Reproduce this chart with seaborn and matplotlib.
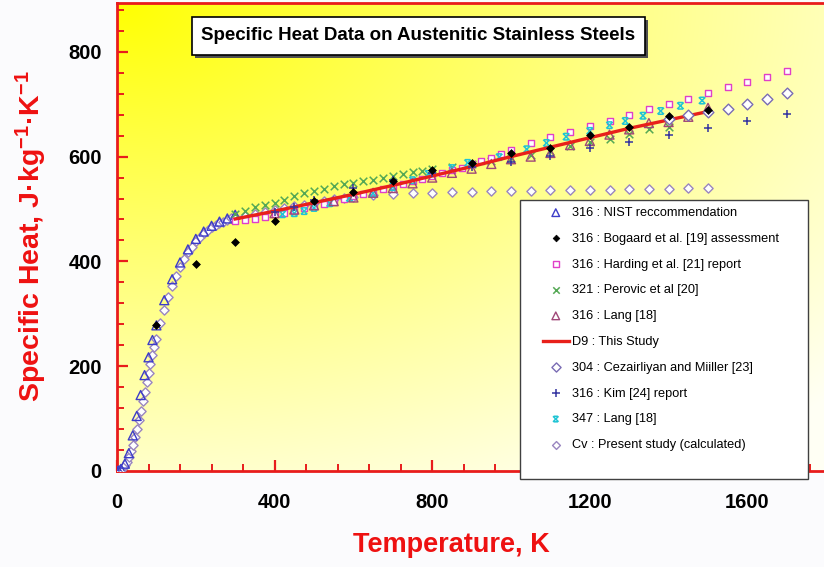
import numpy as np
import pandas as pd
import matplotlib
matplotlib.use("Agg")
import matplotlib.pyplot as plt
import seaborn as sns
from matplotlib.patches import Rectangle
from matplotlib.path import Path
from matplotlib.ticker import MultipleLocator

# ---------------- data ----------------
nist_T = [0, 4, 10, 20, 30, 40, 50, 60, 70, 80, 90, 100, 120, 140, 160, 180, 200, 220, 240, 260, 280, 300]
nist_cp = [0, 1, 4, 14, 34, 68, 105, 145, 183, 217, 250, 278, 326, 366, 398, 423, 443, 457, 468, 476, 482, 489]

bog_T = [100, 200, 300, 400, 500, 600, 700, 800, 900, 1000, 1100, 1200, 1300, 1400, 1500]
bog_cp = [279, 395, 437, 477, 515, 533, 553, 575, 588, 607, 616, 641, 656, 677, 689]

har_T = [300, 325, 350, 375, 400, 425, 450, 475, 500, 525, 550, 575, 600, 625, 650, 675, 700, 725, 750,
         775, 800, 825, 850, 875, 900, 925, 950, 975, 1000, 1050, 1100, 1150, 1200, 1250, 1300, 1350,
         1400, 1450, 1500, 1550, 1600, 1650, 1700]
har_cp = [478, 479, 481, 485, 490, 493, 497, 501, 505, 509, 514, 519, 524, 528, 533, 538, 543, 548, 553,
          558, 563, 568, 574, 579, 585, 591, 598, 605, 612, 626, 637, 647, 658, 668, 680, 690,
          701, 710, 721, 732, 742, 752, 764]

per_T = [300, 325, 350, 375, 400, 425, 450, 475, 500, 525, 550, 575, 600, 625, 650, 675, 700, 725, 750,
         775, 800, 850, 900, 950, 1000, 1050, 1100, 1150, 1200, 1250, 1300, 1350, 1400]
per_cp = [490, 497, 503, 508, 512, 518, 524, 530, 534, 539, 543, 547, 550, 553, 556, 560, 563, 567, 570,
          573, 576, 581, 586, 592, 598, 604, 611, 620, 628, 634, 643, 652, 657]

lang316_T = [400, 450, 500, 550, 600, 650, 700, 750, 800, 850, 900, 950, 1000, 1050, 1100, 1150,
             1200, 1250, 1300, 1350, 1400, 1450, 1500]
lang316_cp = [492, 499, 507, 515, 522, 531, 540, 549, 560, 569, 577, 586, 595, 600, 607, 622,
              630, 642, 652, 664, 666, 676, 693]

d9_T = [300, 400, 500, 600, 700, 800, 900, 1000, 1100, 1200, 1300, 1400, 1500]
d9_cp = [481, 496, 512, 528, 545, 563, 581, 600, 618, 636, 654, 670, 686]

cez_T = [1400, 1450, 1500, 1550, 1600, 1650, 1700]
cez_cp = [672, 680, 685, 691, 700, 710, 721]

kim_T = [400, 450, 500, 600, 700, 800, 900, 1000, 1100, 1200, 1300, 1400, 1500, 1600, 1700]
kim_cp = [494, 504, 517, 540, 555, 569, 580, 590, 601, 616, 628, 641, 654, 668, 681]

lang347_T = [420, 450, 475, 500, 540, 590, 650, 700, 750, 790, 850, 890, 970, 1040, 1090, 1140,
             1200, 1250, 1290, 1335, 1380, 1430, 1485]
lang347_cp = [490, 492, 496, 502, 511, 521, 530, 542, 555, 567, 578, 588, 599, 614, 626, 638,
              649, 660, 668, 678, 687, 697, 707]

cv_T = [0, 5, 10, 15, 20, 25, 30, 35, 40, 45, 50, 55, 60, 65, 70, 75, 80, 85, 90, 95, 100,
        110, 120, 130, 140, 150, 160, 170, 180, 190, 200, 210, 220, 230, 240, 250, 260, 270, 280, 290, 300,
        325, 350, 375, 400, 425, 450, 475, 500, 525, 550, 575, 600, 650, 700, 750, 800, 850, 900, 950,
        1000, 1050, 1100, 1150, 1200, 1250, 1300, 1350, 1400, 1450, 1500]
cv_cp = [0, 1, 3, 6, 11, 18, 27, 38, 50, 64, 80, 97, 115, 133, 151, 169, 187, 204, 221, 237, 252,
         282, 308, 332, 353, 372, 389, 404, 417, 428, 438, 447, 454, 460, 465, 469, 473, 476, 479, 482, 484,
         487, 490, 494, 498, 501, 505, 508, 512, 515, 519, 521, 523, 527, 529, 531, 531, 532, 533, 534,
         534, 535, 536, 536, 537, 537, 538, 538, 539, 540, 540]

labels = {
    "nist": "316 : NIST reccommendation",
    "bog": "316 : Bogaard et al. [19] assessment",
    "har": "316 : Harding et al. [21] report",
    "per": "321 : Perovic et al [20]",
    "l316": "316 : Lang [18]",
    "d9": "D9 : This Study",
    "cez": "304 : Cezairliyan and Miiller [23]",
    "kim": "316 : Kim [24] report",
    "l347": "347 : Lang [18]",
    "cv": "Cv : Present study (calculated)",
}

# ---------------- figure ----------------
W, H = 824, 567
fig = plt.figure(figsize=(W / 100, H / 100), dpi=100)
fig.patch.set_facecolor("#fbfbfd")
plt.rcParams["font.family"] = ["Liberation Sans", "DejaVu Sans"]
plt.rcParams["mathtext.default"] = "regular"

L, R, T, B = 117, 832, 3, 471
ax = fig.add_axes([L / W, 1 - B / H, (R - L) / W, (B - T) / H])

# gradient background (yellow top-left -> cream bottom-right)
nx, ny = 220, 160
u = np.linspace(0, 1, nx)[None, :]
v = np.linspace(1, 0, ny)[:, None]
t = np.clip(np.sqrt((u * 0.95) ** 2 + ((1 - v) * 1.05) ** 2) / 1.3, 0, 1) ** 0.9
c0 = np.array([1.0, 1.0, 0.0])
c1 = np.array([1.0, 1.0, 0.96])
img = c0[None, None, :] * (1 - t[..., None]) + c1[None, None, :] * t[..., None]
ax.imshow(img, extent=[0, 1, 0, 1], transform=ax.transAxes, aspect="auto", zorder=0,
          interpolation="bilinear")

xmax = (R - L) / 0.394
ymax = (B - T) / 0.524

def df(x, y):
    return pd.DataFrame({"T": x, "Cp": y})

xm = Path([(-1, -1), (1, 1), (-1, 1), (1, -1), (-0.75, 1), (0.75, 1), (-0.75, -1), (0.75, -1)],
          [Path.MOVETO, Path.LINETO, Path.MOVETO, Path.LINETO,
           Path.MOVETO, Path.LINETO, Path.MOVETO, Path.LINETO])

c_nist = "#3c3cc8"
c_har = "#e040c8"
c_per = "#55a855"
c_l316 = "#a04878"
c_d9 = "#e8201a"
c_cez = "#7a6cb4"
c_kim = "#3434a0"
c_l347 = "#20c4d4"
c_cv = "#9a86c0"

sns.scatterplot(data=df(cv_T, cv_cp), x="T", y="Cp", ax=ax, marker="D", s=22,
                facecolor="white", edgecolor=c_cv, linewidth=1.0, label=labels["cv"], zorder=3)
sns.scatterplot(data=df(nist_T, nist_cp), x="T", y="Cp", ax=ax, marker="^", s=42,
                facecolor="none", edgecolor=c_nist, linewidth=1.0, label=labels["nist"], zorder=3)
sns.scatterplot(data=df(per_T, per_cp), x="T", y="Cp", ax=ax, marker="x", s=30,
                color=c_per, linewidth=1.1, label=labels["per"], zorder=3)
sns.scatterplot(data=df(har_T, har_cp), x="T", y="Cp", ax=ax, marker="s", s=22,
                facecolor="white", edgecolor=c_har, linewidth=1.0, label=labels["har"], zorder=3)
sns.scatterplot(data=df(lang347_T, lang347_cp), x="T", y="Cp", ax=ax, marker=xm, s=22,
                facecolor="none", edgecolor=c_l347, linewidth=1.1, label=labels["l347"], zorder=3)
sns.scatterplot(data=df(lang316_T, lang316_cp), x="T", y="Cp", ax=ax, marker="^", s=42,
                facecolor="none", edgecolor=c_l316, linewidth=1.0, label=labels["l316"], zorder=3)
sns.lineplot(x=d9_T, y=d9_cp, ax=ax, color=c_d9, linewidth=2.4, label=labels["d9"], zorder=4)
sns.scatterplot(data=df(kim_T, kim_cp), x="T", y="Cp", ax=ax, marker="+", s=40,
                color=c_kim, linewidth=1.1, label=labels["kim"], zorder=5)
sns.scatterplot(data=df(cez_T, cez_cp), x="T", y="Cp", ax=ax, marker="D", s=30,
                facecolor="white", edgecolor=c_cez, linewidth=1.0, label=labels["cez"], zorder=5)
sns.scatterplot(data=df(bog_T, bog_cp), x="T", y="Cp", ax=ax, marker="D", s=16,
                color="black", edgecolor="black", linewidth=0.5, label=labels["bog"], zorder=6)

if ax.get_legend() is not None:
    ax.get_legend().remove()

ax.set_xlim(0, xmax)
ax.set_ylim(0, ymax)
ax.xaxis.set_major_locator(MultipleLocator(400))
ax.xaxis.set_minor_locator(MultipleLocator(80))
ax.yaxis.set_major_locator(MultipleLocator(200))
ax.yaxis.set_minor_locator(MultipleLocator(40))
for s in ax.spines.values():
    s.set_color("#e81c1c")
    s.set_linewidth(2.0)
ax.tick_params(which="both", direction="in", color="#e81c1c", labelcolor="black",
               top=False, right=False)
ax.tick_params(which="major", length=8, width=1.6)
ax.tick_params(which="minor", length=5, width=1.4)
ax.tick_params(axis="x", pad=16, labelsize=14.5)
ax.tick_params(axis="y", pad=11, labelsize=14.5)
for lab in ax.get_xticklabels() + ax.get_yticklabels():
    lab.set_fontweight("bold")
ax.set_xlabel("")
ax.set_ylabel("")

fig.text(451 / W, 1 - 545 / H, "Temperature, K", color="#ee1111", fontsize=19.5,
         fontweight="bold", ha="center", va="center")
fig.text(31 / W, 1 - 236 / H, "Specific Heat, J·kg$^{-1}$·K$^{-1}$", color="#ee1111",
         fontsize=20.5, fontweight="bold", ha="center", va="center", rotation=90)

# title box
fig.patches.append(Rectangle((195 / W, 1 - 58 / H), 453 / W, 38 / H, transform=fig.transFigure,
                             facecolor="#505050", edgecolor="none", zorder=5))
fig.patches.append(Rectangle((192 / W, 1 - 55 / H), 453 / W, 38 / H, transform=fig.transFigure,
                             facecolor="white", edgecolor="black", linewidth=1.2, zorder=6))
fig.text(418.5 / W, 1 - 36 / H, "Specific Heat Data on Austenitic Stainless Steels",
         ha="center", va="center", fontsize=13.5, fontweight="bold", zorder=7)

# legend box
fig.patches.append(Rectangle((520 / W, 1 - 479 / H), 288 / W, 279 / H, transform=fig.transFigure,
                             facecolor="white", edgecolor="#404040", linewidth=1.0, zorder=5))
h, l = ax.get_legend_handles_labels()
hd = dict(zip(l, h))
order = ["nist", "bog", "har", "per", "l316", "d9", "cez", "kim", "l347", "cv"]
leg = fig.legend([hd[labels[k]] for k in order], [labels[k] for k in order],
                 loc="upper left", bbox_to_anchor=(543 / W, 1 - 207 / H),
                 frameon=False, fontsize=9.2, labelspacing=1.08, handlelength=2.0,
                 handletextpad=0.3, borderpad=0, borderaxespad=0, markerscale=0.85)
leg.set_zorder(7)

fig.savefig("out.png", dpi=100, facecolor=fig.get_facecolor())
